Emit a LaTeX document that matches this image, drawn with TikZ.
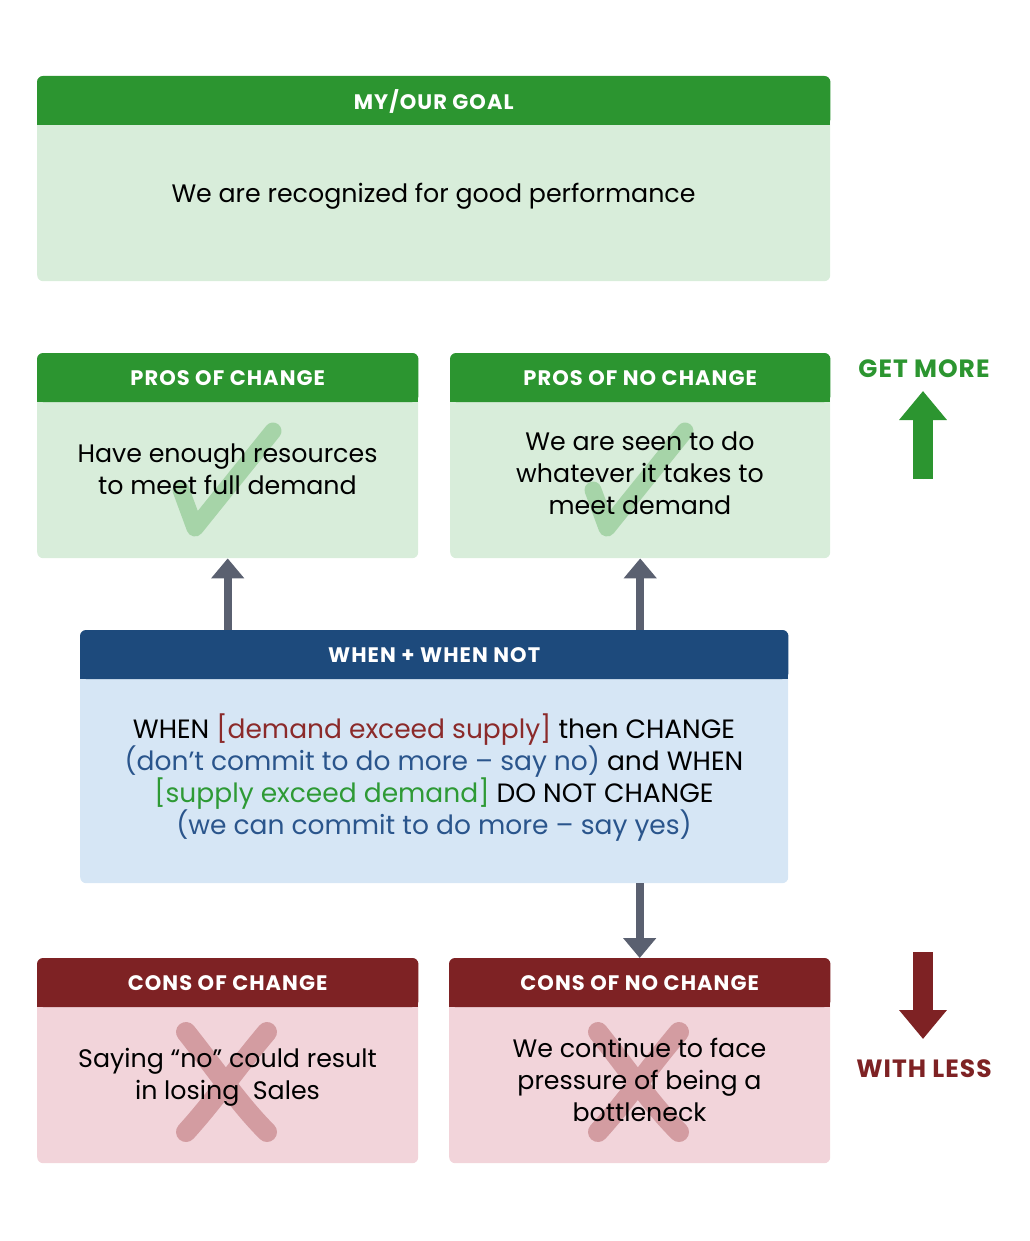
\documentclass[tikz,border=0pt]{standalone}
\usepackage{fontspec}
\setmainfont{Poppins}
\usetikzlibrary{arrows.meta}
\definecolor{greenD}{HTML}{2C9530}
\definecolor{greenL}{HTML}{D8EDDA}
\definecolor{blueD}{HTML}{1D4A7C}
\definecolor{blueL}{HTML}{D6E6F5}
\definecolor{redD}{HTML}{7E2224}
\definecolor{redL}{HTML}{F2D4DA}
\definecolor{arrowgray}{HTML}{5A6070}
\definecolor{checkc}{HTML}{A6D4A8}
\definecolor{crossc}{HTML}{D39CA1}
\definecolor{txtred}{HTML}{8B2A2A}
\definecolor{txtblue}{HTML}{2A558C}
\definecolor{txtgreen}{HTML}{2E9A35}
\tikzset{
  panel/.style={rectangle, rounded corners=6pt, anchor=north west, inner sep=0pt},
  hdrtext/.style={text=white, font=\fontsize{21}{22}\selectfont\bfseries\addfontfeatures{LetterSpace=5}},
  bodytext/.style={align=center, font=\fontsize{25.3}{32}\selectfont, text=black},
  link/.style={draw=arrowgray, line width=8pt, -{Triangle[width=32pt,length=20pt]}},
  bigarrow/.style={line width=20pt, -{Triangle[width=46pt,length=29pt]}},
  checkmark/.style={draw=checkc, line width=17pt, line cap=round, line join=round},
  crossmark/.style={draw=crossc, line width=20pt, line cap=round},
  sidelabel/.style={font=\fontsize{25}{28}\selectfont\bfseries\addfontfeatures{LetterSpace=4}}
}
\newcommand{\header}[3]{%
  \fill[#2, rounded corners=6pt] (#1.north west) rectangle ([yshift=-49pt]#1.north east);
  \fill[#2] ([yshift=-39pt]#1.north west) rectangle ([yshift=-49pt]#1.north east);
  \node[hdrtext] at ([yshift=-25pt]#1.north) {#3};
}
\begin{document}
\begin{tikzpicture}[x=1pt,y=-1pt]
\useasboundingbox (0,0) rectangle (1029,1241);
% panels
\node[panel, fill=greenL, minimum width=793pt, minimum height=205pt] (goal) at (37,76) {};
\node[panel, fill=greenL, minimum width=381pt, minimum height=205pt] (prosc) at (37,353) {};
\node[panel, fill=greenL, minimum width=380pt, minimum height=205pt] (prosn) at (450,353) {};
\node[panel, fill=blueL, minimum width=708pt, minimum height=253pt] (when) at (80,630) {};
\node[panel, fill=redL, minimum width=381pt, minimum height=205pt] (consc) at (37,958) {};
\node[panel, fill=redL, minimum width=381pt, minimum height=205pt] (consn) at (449,958) {};
% headers
\header{goal}{greenD}{MY/OUR GOAL}
\header{prosc}{greenD}{PROS OF CHANGE}
\header{prosn}{greenD}{PROS OF NO CHANGE}
\header{when}{blueD}{WHEN + WHEN NOT}
\header{consc}{redD}{CONS OF CHANGE}
\header{consn}{redD}{CONS OF NO CHANGE}
% watermark marks
\draw[checkmark] (181,490) -- (195,528) -- (273,431);
\draw[checkmark] (593,490) -- (607,528) -- (685,431);
\draw[crossmark] (186,1032) .. controls (220,1075) and (240,1105) .. (267,1132);
\draw[crossmark] (267,1032) .. controls (235,1070) and (215,1100) .. (186,1132);
\draw[crossmark] (598,1032) .. controls (632,1075) and (652,1105) .. (679,1132);
\draw[crossmark] (679,1032) .. controls (647,1070) and (627,1100) .. (598,1132);
% body texts
\node[bodytext] (goaltxt) at (433.5,196) {We are recognized for good performance};
\node[bodytext] (prosctxt) at (227.5,469) {Have enough resources\\to meet full demand};
\node[bodytext] (prosntxt) at (640,473) {We are seen to do\\whatever it takes to\\meet demand};
\node[bodytext, font=\fontsize{26.5}{32}\selectfont] (whentxt) at (434,778) {WHEN \textcolor{txtred}{[demand exceed supply]} then CHANGE\\
\textcolor{txtblue}{(don’t commit to do more – say no)} and WHEN\\
\textcolor{txtgreen}{[supply exceed demand]} DO NOT CHANGE\\
\textcolor{txtblue}{(we can commit to do more – say yes)}};
\node[bodytext] (consctxt) at (227.5,1077) {Saying “no” could result\\in losing~ Sales};
\node[bodytext] (consntxt) at (639.5,1080) {We continue to face\\pressure of being a\\bottleneck};
% connectors
\draw[link] (when.north -| prosc.south) -- (prosc.south);
\draw[link] (when.north -| prosn.south) -- (prosn.south);
\draw[link] (when.south -| consn.north) -- (consn.north);
% side indicators
\node[sidelabel, text=greenD] (getmore) at (924,369) {GET MORE};
\coordinate (upbase) at (923,479);
\coordinate (uptip) at (923,391);
\draw[bigarrow, draw=greenD, fill=greenD] (upbase) -- (uptip);
\node[sidelabel, text=redD] (withless) at (924,1069) {WITH LESS};
\coordinate (downbase) at (923,952);
\coordinate (downtip) at (923,1039);
\draw[bigarrow, draw=redD, fill=redD] (downbase) -- (downtip);
\end{tikzpicture}
\end{document}
